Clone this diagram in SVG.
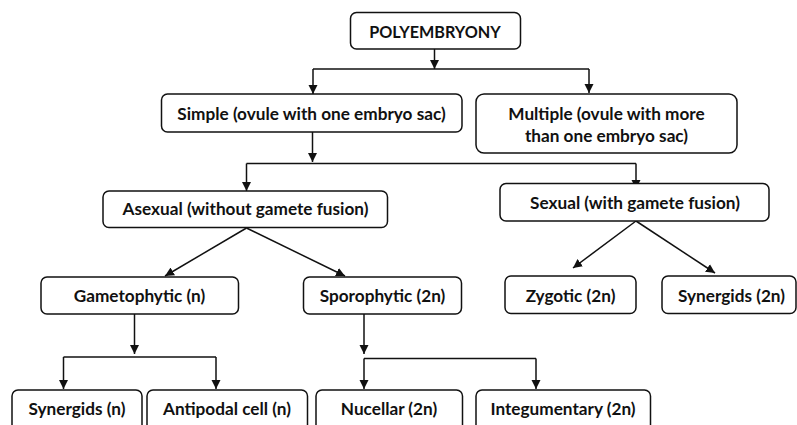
<svg xmlns="http://www.w3.org/2000/svg" width="797" height="425" viewBox="0 0 797 425">
<defs>
<marker id="ah" markerWidth="10" markerHeight="10" refX="9" refY="5" orient="auto" markerUnits="userSpaceOnUse">
<path d="M0,0.5 L9,5 L0,9.5 Z" fill="#111"/>
</marker>
<style>
.box{fill:#fff;stroke:#111;stroke-width:1.5}
.t{font-family:Lato,"Open Sans","Liberation Sans",sans-serif;font-weight:bold;font-size:17.2px;fill:#111;text-anchor:middle}
.c{fill:none;stroke:#111;stroke-width:1.5}
.a{marker-end:url(#ah)}
</style>
</defs>
<rect width="797" height="425" fill="#fff"/>
<g id="connectors">
<line class="c a" x1="434.5" y1="49" x2="434.5" y2="69"/>
<line class="c" x1="313" y1="69" x2="589" y2="69"/>
<line class="c a" x1="313" y1="69" x2="313" y2="94"/>
<line class="c a" x1="589" y1="69" x2="589" y2="93"/>
<line class="c a" x1="312.5" y1="132" x2="312.5" y2="162"/>
<line class="c" x1="246.5" y1="163.5" x2="636" y2="163.5"/>
<line class="c a" x1="246.5" y1="163.5" x2="246.5" y2="191"/>
<line class="c a" x1="636" y1="163.5" x2="636" y2="189"/>
<line class="c a" x1="246.5" y1="228" x2="165" y2="276"/>
<line class="c a" x1="246.5" y1="228" x2="345" y2="276"/>
<line class="c a" x1="636" y1="221" x2="573" y2="268"/>
<line class="c a" x1="636" y1="221" x2="715" y2="273"/>
<line class="c a" x1="134.5" y1="314" x2="134.5" y2="354"/>
<line class="c" x1="63.5" y1="357" x2="216" y2="357"/>
<line class="c a" x1="63.5" y1="357" x2="63.5" y2="389"/>
<line class="c a" x1="216" y1="357" x2="216" y2="389"/>
<line class="c a" x1="364" y1="314" x2="364" y2="354"/>
<line class="c" x1="364" y1="358.5" x2="536" y2="358.5"/>
<line class="c a" x1="364" y1="358.5" x2="364" y2="389"/>
<line class="c a" x1="536" y1="358.5" x2="536" y2="389"/>
</g>
<g id="polyembryony">
<rect class="box" x="350.5" y="12.5" width="170" height="36.5" rx="6"/>
<text class="t" x="435" y="38" style="font-size:16.2px">POLYEMBRYONY</text>
</g>
<g id="simple">
<rect class="box" x="161.5" y="94" width="300.5" height="38" rx="6"/>
<text class="t" x="311.5" y="120">Simple (ovule with one embryo sac)</text>
</g>
<g id="multiple">
<rect class="box" x="476" y="94" width="261" height="59" rx="8"/>
<text class="t" x="606.5" y="120">Multiple (ovule with more</text>
<text class="t" x="606.5" y="142">than one embryo sac)</text>
</g>
<g id="asexual">
<rect class="box" x="103" y="191" width="284.5" height="36.5" rx="6"/>
<text class="t" x="245.5" y="215">Asexual (without gamete fusion)</text>
</g>
<g id="sexual">
<rect class="box" x="500" y="183.5" width="269" height="37.5" rx="6"/>
<text class="t" x="635" y="208.5">Sexual (with gamete fusion)</text>
</g>
<g id="gametophytic">
<rect class="box" x="41" y="277" width="197.5" height="37" rx="6"/>
<text class="t" x="139.5" y="302">Gametophytic (n)</text>
</g>
<g id="sporophytic">
<rect class="box" x="303.5" y="277" width="158" height="37" rx="6"/>
<text class="t" x="382.5" y="302">Sporophytic (2n)</text>
</g>
<g id="zygotic">
<rect class="box" x="505" y="276" width="131" height="37.5" rx="6"/>
<text class="t" x="570.5" y="301.5">Zygotic (2n)</text>
</g>
<g id="synergids-2n">
<rect class="box" x="662" y="276" width="134" height="37.5" rx="6"/>
<text class="t" x="731.5" y="301.5">Synergids (2n)</text>
</g>
<g id="synergids-n">
<rect class="box" x="12" y="390" width="130" height="44" rx="6"/>
<text class="t" x="77" y="415">Synergids (n)</text>
</g>
<g id="antipodal">
<rect class="box" x="147" y="390" width="160.5" height="44" rx="6"/>
<text class="t" x="227" y="415">Antipodal cell (n)</text>
</g>
<g id="nucellar">
<rect class="box" x="316" y="390" width="146.5" height="44" rx="6"/>
<text class="t" x="389" y="415">Nucellar (2n)</text>
</g>
<g id="integumentary">
<rect class="box" x="476" y="390" width="174.5" height="44" rx="6"/>
<text class="t" x="563" y="415">Integumentary (2n)</text>
</g>
</svg>
